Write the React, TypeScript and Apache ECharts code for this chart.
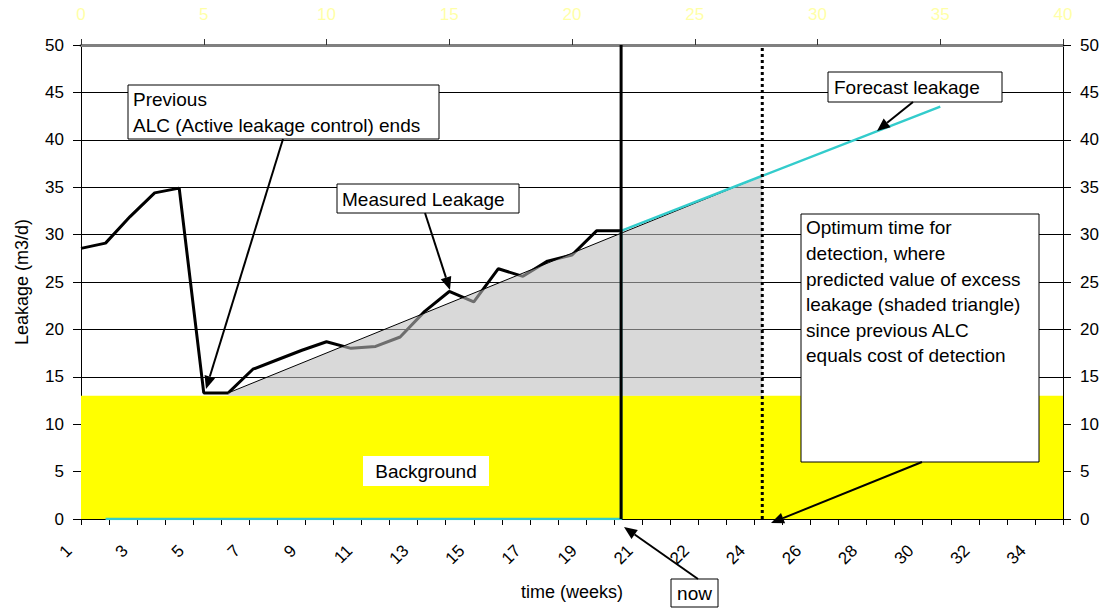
import React, { useEffect, useRef } from "react";
import * as echarts from "echarts";

// bottom category axis (weeks)
const weekLabels: string[] = [
  "1", "2", "3", "4", "5", "6", "7", "8", "9", "10", "11", "12", "13", "14", "15", "16", "17", "18", "19", "20", "21",
  "21", "22", "23", "24", "25", "26", "27", "28", "29", "30", "31", "32", "33", "34", "35",
];

// measured leakage, plotted against the secondary (top) axis 0..40
const measuredX: number[] = [0, 1, 2, 3, 4, 5, 6, 7, 8, 9, 10, 11, 12, 13, 14, 15, 16, 17, 18, 19, 20, 21, 22];
const measuredY: number[] = [
  28.55, 29.1, 31.9, 34.4, 34.9, 13.3, 13.3, 15.8, 16.8, 17.8, 18.7, 18.0, 18.2, 19.2, 21.9, 24.0, 22.9, 26.4, 25.6,
  27.2, 27.85, 30.4, 30.4,
];

// forecast leakage (cyan)
const forecastX: number[] = [1, 22, 22, 35];
const forecastY: number[] = [0, 0, 30.4, 43.5];

// excess leakage trend (shaded triangle)
const trendX: number[] = [6, 27.75];
const trendY: number[] = [13.3, 36.2];
const trendBase = 13;

// background leakage level
const backgroundX: number[] = [0, 40];
const backgroundY: number[] = [13, 13];

// vertical markers
const nowWeek = 22;
const optimumWeek = 27.75;
const yMin = 0;
const yMax = 50;

const zip = (xs: number[], ys: number[]) => xs.map((x, i) => [x, ys[i]]);

const FONT = '"Liberation Sans", Arial, sans-serif';
const ANN_FONT = `19px ${FONT}`;

function arrow(x1: number, y1: number, x2: number, y2: number): any[] {
  const dx = x2 - x1;
  const dy = y2 - y1;
  const L = Math.hypot(dx, dy);
  const ux = dx / L;
  const uy = dy / L;
  const head = 13;
  const w = 5.5;
  const bx = x2 - ux * head;
  const by = y2 - uy * head;
  return [
    { type: "line", z: 100, shape: { x1, y1, x2: bx, y2: by }, style: { stroke: "#000", lineWidth: 2 } },
    {
      type: "polygon",
      z: 100,
      shape: { points: [[x2, y2], [bx - uy * w, by + ux * w], [bx + uy * w, by - ux * w]] },
      style: { fill: "#000" },
    },
  ];
}

function box(x: number, y: number, width: number, height: number, stroke = true): any {
  return {
    type: "rect",
    z: 99,
    shape: { x, y, width, height },
    style: { fill: "#fff", stroke: stroke ? "#000" : "none", lineWidth: 1 },
  };
}

function label(text: string, x: number, y: number, opts: any = {}): any {
  return {
    type: "text",
    z: 101,
    style: {
      text,
      x,
      y,
      font: ANN_FONT,
      fill: "#000",
      textAlign: opts.align || "left",
      textVerticalAlign: opts.valign || "middle",
      lineHeight: opts.lineHeight || 26,
    },
  };
}

export default function App() {
  const ref = useRef<HTMLDivElement>(null);

  useEffect(() => {
    if (!ref.current) return;
    const chart = echarts.init(ref.current, undefined, { renderer: "svg" });

    const graphic: any[] = [
      box(128, 85, 311, 54),
      label("Previous\nALC (Active leakage control) ends", 133, 86, { valign: "top", lineHeight: 26 }),
      ...arrow(283, 139, 206, 389),

      box(337, 184, 182, 29),
      label("Measured Leakage", 342, 199),
      ...arrow(425, 213, 450, 290),

      box(828, 72, 174, 30),
      label("Forecast leakage", 834, 87),
      ...arrow(913, 102, 877, 131),

      box(801, 214, 238, 248),
      label(
        "Optimum time for\ndetection, where\npredicted value of excess\nleakage (shaded triangle)\nsince previous ALC\nequals cost of detection",
        806,
        215,
        { valign: "top", lineHeight: 25.6 }
      ),
      ...arrow(922, 462, 771, 523),

      box(671, 579, 47, 28),
      label("now", 694.5, 593.5, { align: "center" }),
      ...arrow(698, 579, 624, 527),

      box(363, 456, 126, 30, false),
      label("Background", 426, 471, { align: "center" }),
    ];

    chart.setOption({
      animation: false,
      backgroundColor: "#fff",
      grid: { left: 81, right: 47, top: 45, bottom: 91, containLabel: false },
      xAxis: [
        {
          type: "category",
          position: "bottom",
          data: weekLabels,
          boundaryGap: false,
          axisLine: { show: true, onZero: false, lineStyle: { color: "#000", width: 1 } },
          axisTick: { show: true, interval: 0, inside: false, length: 6, lineStyle: { color: "#000" } },
          axisLabel: {
            interval: 1,
            rotate: 45,
            margin: 17,
            padding: [0, 17, 0, 0],
            color: "#000",
            fontSize: 17,
            fontFamily: FONT,
          },
          splitLine: { show: false },
          name: "time (weeks)",
          nameLocation: "middle",
          nameGap: 64,
          nameTextStyle: { color: "#000", fontSize: 18, fontFamily: FONT },
        },
        {
          type: "value",
          position: "top",
          min: 0,
          max: 40,
          interval: 5,
          axisLine: { show: true, onZero: false, lineStyle: { color: "#808080", width: 3 } },
          axisTick: { show: true, inside: false, length: 6, lineStyle: { color: "#333", width: 1 } },
          axisLabel: { color: "#ffffa8", fontSize: 17, fontFamily: FONT, margin: 22 },
          splitLine: { show: false },
        },
      ],
      yAxis: [
        {
          type: "value",
          position: "left",
          min: yMin,
          max: yMax,
          interval: 5,
          axisLine: { show: true, onZero: false, lineStyle: { color: "#000", width: 1 } },
          axisTick: { show: true, inside: false, length: 8, lineStyle: { color: "#000" } },
          axisLabel: { color: "#000", fontSize: 17, fontFamily: FONT, margin: 17 },
          splitLine: { show: true, lineStyle: { color: "#000", width: 1 } },
          name: "Leakage (m3/d)",
          nameLocation: "middle",
          nameRotate: 90,
          nameGap: 50,
          nameTextStyle: { color: "#000", fontSize: 18, fontFamily: FONT },
        },
        {
          type: "value",
          position: "right",
          min: yMin,
          max: yMax,
          interval: 5,
          axisLine: { show: true, onZero: false, lineStyle: { color: "#000", width: 1 } },
          axisTick: { show: true, inside: false, length: 8, lineStyle: { color: "#000" } },
          axisLabel: { color: "#000", fontSize: 17, fontFamily: FONT, margin: 17 },
          splitLine: { show: false },
        },
      ],
      series: [
        {
          name: "Background",
          type: "line",
          xAxisIndex: 1,
          yAxisIndex: 0,
          data: zip(backgroundX, backgroundY),
          symbol: "none",
          lineStyle: { width: 0 },
          areaStyle: { color: "#ffff00", opacity: 1, origin: "start" },
          z: 1,
          silent: true,
        },
        {
          name: "Measured Leakage",
          type: "line",
          xAxisIndex: 1,
          yAxisIndex: 0,
          data: zip(measuredX, measuredY),
          symbol: "none",
          lineStyle: { color: "#000", width: 3 },
          z: 2,
        },
        {
          name: "Excess leakage",
          type: "line",
          xAxisIndex: 1,
          yAxisIndex: 0,
          data: zip(trendX, trendY),
          symbol: "none",
          lineStyle: { color: "#000", width: 1 },
          areaStyle: { color: "rgba(190,190,190,0.58)", opacity: 1, origin: trendBase },
          z: 3,
        },
        {
          name: "Forecast leakage",
          type: "line",
          xAxisIndex: 1,
          yAxisIndex: 0,
          data: zip(forecastX, forecastY),
          symbol: "none",
          lineStyle: { color: "#33cccc", width: 2.5 },
          z: 4,
        },
        {
          name: "now",
          type: "line",
          xAxisIndex: 1,
          yAxisIndex: 0,
          data: [
            [nowWeek, yMin],
            [nowWeek, yMax],
          ],
          symbol: "none",
          lineStyle: { color: "#000", width: 3 },
          z: 5,
        },
        {
          name: "Optimum",
          type: "line",
          xAxisIndex: 1,
          yAxisIndex: 0,
          data: [
            [optimumWeek, yMin],
            [optimumWeek, yMax],
          ],
          symbol: "none",
          lineStyle: { color: "#000", width: 3, type: [3, 3] },
          z: 5,
        },
      ],
      graphic,
    });

    return () => {
      chart.dispose();
    };
  }, []);

  return <div ref={ref} style={{ position: "fixed", left: 0, top: 0, width: 1110, height: 610 }} />;
}
